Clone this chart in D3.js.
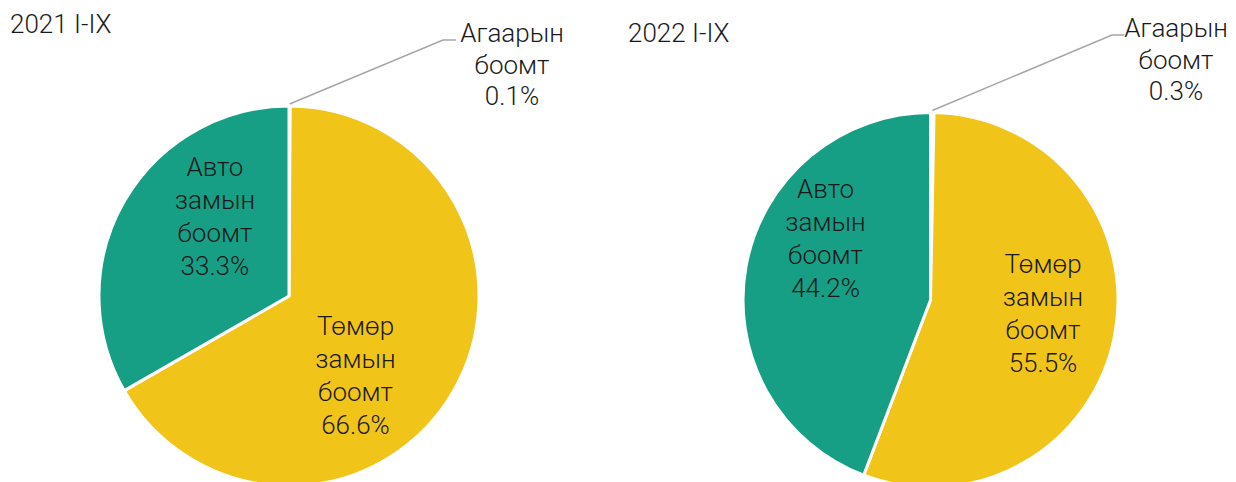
<!DOCTYPE html>
<html>
<head>
<meta charset="utf-8">
<script src="https://cdn.jsdelivr.net/npm/d3@7"></script>
<style>
  body { margin: 0; background: #fff; }
  svg text { font-family: 'Roboto Light', Roboto, 'Noto Sans', sans-serif; font-weight: 300; fill: #1a1a1a; }
</style>
</head>
<body>
<div class="chart_container"></div>
<script>
'use strict';

// data
const categories = ['Агаарын боомт', 'Төмөр замын боомт', 'Авто замын боомт'];
const titles = ['2021 I-IX', '2022 I-IX'];
const values2021 = [0.1, 66.6, 33.3];
const values2022 = [0.3, 55.5, 44.2];

const colors = ['#ffffff', '#f1c419', '#169f85'];

const width = 1236,
  height = 482;

const svg = d3.select('.chart_container')
  .append('svg')
  .attr('width', width)
  .attr('height', height);

// layout per pie: centre, radius, title spot, label offsets (in radius units), leader elbow
const pies = [
  {
    values: values2021, title: titles[0], cx: 289, cy: 296, r: 190,
    titleX: 10, titleY: 33,
    labels: [null, [0.35, 0.43], [-0.39, -0.41]],
    elbow: [443, 40], elbowEnd: 456, airX: 512, airY: 42
  },
  {
    values: values2022, title: titles[1], cx: 930.5, cy: 300, r: 187.5,
    titleX: 628, titleY: 42,
    labels: [null, [0.60, 0.08], [-0.56, -0.32]],
    elbow: [1112, 35], elbowEnd: 1124, airX: 1176, airY: 37
  }
];

const pie = d3.pie().sort(null).value(d => d);
const lineH = 33;

pies.forEach(p => {
  const g = svg.append('g')
    .attr('transform', `translate(${p.cx}, ${p.cy})`);

  const arc = d3.arc().innerRadius(0).outerRadius(p.r);
  const arcs = pie(p.values);

  g.selectAll('path')
    .data(arcs)
    .enter()
    .append('path')
    .attr('d', arc)
    .attr('fill', (d, i) => colors[i])
    .attr('stroke', '#fff')
    .attr('stroke-width', 3)
    .attr('stroke-linejoin', 'round');

  // inner labels
  arcs.forEach((d, i) => {
    if (!p.labels[i]) return;
    const words = categories[i].split(' ');
    const lines = [...words, d.data.toFixed(1) + '%'];
    const x = p.labels[i][0] * p.r;
    const y = p.labels[i][1] * p.r - (lines.length - 1) * lineH / 2;
    const t = g.append('text')
      .attr('text-anchor', 'middle')
      .attr('font-size', 26)
      .attr('dominant-baseline', 'middle');
    lines.forEach((l, j) => {
      t.append('tspan')
        .attr('x', x)
        .attr('y', y + j * lineH)
        .text(l);
    });
  });

  // leader line for the tiny slice
  const air = arcs[0];
  const mid = (air.startAngle + air.endAngle) / 2;
  const sx = p.cx + Math.sin(mid) * (p.r + 2);
  const sy = p.cy - Math.cos(mid) * (p.r + 2);
  svg.append('polyline')
    .attr('points', `${sx},${sy} ${p.elbow[0]},${p.elbow[1]} ${p.elbowEnd},${p.elbow[1]}`)
    .attr('fill', 'none')
    .attr('stroke', '#a6a6a6')
    .attr('stroke-width', 1.5);

  const airLines = [...categories[0].split(' '), air.data.toFixed(1) + '%'];
  const at = svg.append('text')
    .attr('text-anchor', 'middle')
    .attr('font-size', 26);
  airLines.forEach((l, j) => {
    at.append('tspan')
      .attr('x', p.airX)
      .attr('y', p.airY + j * 31.5)
      .text(l);
  });

  svg.append('text')
    .attr('x', p.titleX)
    .attr('y', p.titleY)
    .attr('font-size', 26)
    .text(p.title);
});
</script>
</body>
</html>
